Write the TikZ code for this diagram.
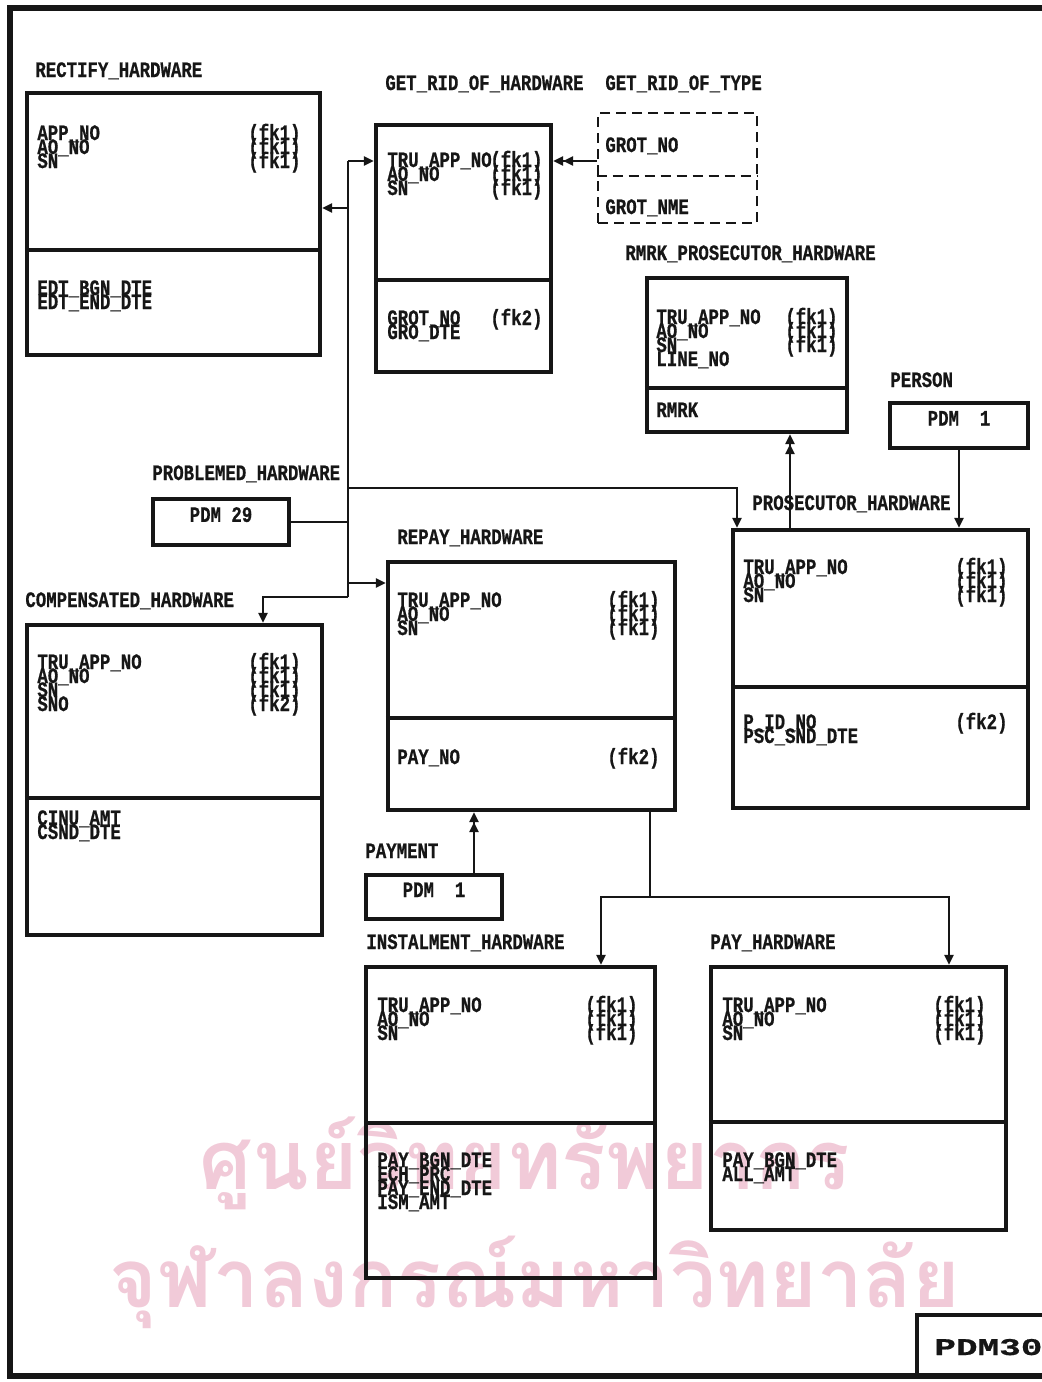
\documentclass[tikz,border=0pt]{standalone}
\usepackage{fontspec}
\newfontfamily\erfont[FakeStretch=0.79, FakeBold=0.7]{Liberation Mono Bold}
\newfontfamily\tagfont[FakeStretch=1.5, FakeBold=0.7]{Liberation Mono Bold}
\newfontfamily\thaifont[Script=Thai]{Loma}
\usepackage{xcolor}
\definecolor{inkblack}{RGB}{22, 22, 22}
\definecolor{stamppink}{RGB}{241, 202, 216}
\usepackage{tikz}
\usetikzlibrary{arrows.meta, positioning, fit}

% one column of attribute lines, 14px apart
\newcommand{\fieldlist}[4]{%
  \foreach \fitem [count=\fidx] in {#4}
    \node[field] (#1\fidx) at (#2, {#3+(\fidx-1)*14}) {\fitem};%
}

\begin{document}
\begin{tikzpicture}[x=0.5pt, y=-0.5pt,
    entity/.style={draw=inkblack, line width=2.2pt, inner sep=0pt},
    divider/.style={draw=inkblack, line width=2.2pt},
    field/.style={font=\erfont\fontsize{11}{7}\selectfont, text=inkblack, anchor=base west, inner sep=0pt},
    title/.style={field},
    pdmbox/.style={entity, font=\erfont\fontsize{11}{7}\selectfont, text=inkblack},
    conn/.style={draw=inkblack, line width=1.2pt},
    arr/.style={conn, -{Triangle[length=5pt, width=4.5pt]}},
    arrtwo/.style={conn, -{Triangle[length=5pt, width=4.5pt]Triangle[length=5pt, width=4.5pt]}}]
    \useasboundingbox (0,0) rectangle (1041,1382);

    % library stamp behind the drawing
    \node[text=stamppink, inner sep=0pt] (stampa) at (525,1163) {\resizebox{325pt}{!}{\thaifont\bfseries ศูนย์วิทยทรัพยากร}};
    \node[text=stamppink, inner sep=0pt] (stampb) at (535,1282) {\resizebox{425pt}{!}{\thaifont\bfseries จุฬาลงกรณ์มหาวิทยาลัย}};

    % page frame
    \draw[inkblack, line width=3.2pt] (1046,8) -- (10,8) -- (10,1376) -- (1046,1376);
    \node[entity, fit={(917,1315) (1060,1376)}] (pdmtag) {};
    \node[anchor=base west, inner sep=0pt, text=inkblack, font=\tagfont\fontsize{12}{12}\selectfont] (pdmname) at (934,1355) {PDM30};

    % RECTIFY_HARDWARE
    \node[title] (rectifyname) at (35,77) {RECTIFY\_HARDWARE};
    \node[entity, fit={(27,93) (320,355)}] (rectify) {};
    \draw[divider] (rectify.west |- 0,250) -- (rectify.east |- 0,250);
    \fieldlist{rectkey}{37}{140}{APP\_NO, AO\_NO, SN}
    \fieldlist{rectfk}{248}{140}{(fk1), (fk1), (fk1)}
    \fieldlist{rectatt}{37}{295}{EDT\_BGN\_DTE, EDT\_END\_DTE}

    % GET_RID_OF_HARDWARE
    \node[title] (getridname) at (385,90) {GET\_RID\_OF\_HARDWARE};
    \node[entity, fit={(376,125) (551,372)}] (getrid) {};
    \draw[divider] (getrid.west |- 0,280) -- (getrid.east |- 0,280);
    \fieldlist{getridkey}{387}{167}{TRU\_APP\_NO, AO\_NO, SN}
    \fieldlist{getridfk}{490}{167}{(fk1), (fk1), (fk1)}
    \fieldlist{getridatt}{387}{325}{GROT\_NO, GRO\_DTE}
    \node[field] (getridfkb) at (490,325) {(fk2)};

    % GET_RID_OF_TYPE
    \node[title] (grotypename) at (605,90) {GET\_RID\_OF\_TYPE};
    \node[entity, line width=1.3pt, dash pattern=on 5pt off 3pt, fit={(598,113) (757,223)}] (grotype) {};
    \draw[inkblack, line width=1.3pt, dash pattern=on 5pt off 3pt] (grotype.west |- 0,176) -- (grotype.east |- 0,176);
    \node[field] (grotypekey) at (605,152) {GROT\_NO};
    \node[field] (grotypeatt) at (605,214) {GROT\_NME};

    % RMRK_PROSECUTOR_HARDWARE
    \node[title] (rmrkname) at (625,260) {RMRK\_PROSECUTOR\_HARDWARE};
    \node[entity, fit={(647,278) (847,432)}] (rmrk) {};
    \draw[divider] (rmrk.west |- 0,388) -- (rmrk.east |- 0,388);
    \fieldlist{rmrkkey}{656}{324}{TRU\_APP\_NO, AO\_NO, SN, LINE\_NO}
    \fieldlist{rmrkfk}{785}{324}{(fk1), (fk1), (fk1)}
    \node[field] (rmrkatt) at (656,417) {RMRK};

    % PERSON
    \node[title] (personname) at (890,387) {PERSON};
    \node[pdmbox, fit={(890,403) (1028,448)}] (person) {PDM\ \ 1};

    % PROBLEMED_HARDWARE
    \node[title] (problemedname) at (152,480) {PROBLEMED\_HARDWARE};
    \node[pdmbox, fit={(153,499) (289,545)}] (problemed) {PDM 29};

    % PROSECUTOR_HARDWARE
    \node[title] (prosecname) at (752,510) {PROSECUTOR\_HARDWARE};
    \node[entity, fit={(733,530) (1028,808)}] (prosec) {};
    \draw[divider] (prosec.west |- 0,687) -- (prosec.east |- 0,687);
    \fieldlist{proseckey}{743}{574}{TRU\_APP\_NO, AO\_NO, SN}
    \fieldlist{prosecfk}{955}{574}{(fk1), (fk1), (fk1)}
    \fieldlist{prosecatt}{743}{729}{P\_ID\_NO, PSC\_SND\_DTE}
    \node[field] (prosecfkb) at (955,729) {(fk2)};

    % REPAY_HARDWARE
    \node[title] (repayname) at (397,544) {REPAY\_HARDWARE};
    \node[entity, fit={(388,562) (675,810)}] (repay) {};
    \draw[divider] (repay.west |- 0,718) -- (repay.east |- 0,718);
    \fieldlist{repaykey}{397}{607}{TRU\_APP\_NO, AO\_NO, SN}
    \fieldlist{repayfk}{607}{607}{(fk1), (fk1), (fk1)}
    \node[field] (repayatt) at (397,764) {PAY\_NO};
    \node[field] (repayfkb) at (607,764) {(fk2)};

    % COMPENSATED_HARDWARE
    \node[title] (compensname) at (25,607) {COMPENSATED\_HARDWARE};
    \node[entity, fit={(27,625) (322,935)}] (compens) {};
    \draw[divider] (compens.west |- 0,798) -- (compens.east |- 0,798);
    \fieldlist{compenskey}{37}{669}{TRU\_APP\_NO, AO\_NO, SN, SNO}
    \fieldlist{compensfk}{248}{669}{(fk1), (fk1), (fk1), (fk2)}
    \fieldlist{compensatt}{37}{825}{CINU\_AMT, CSND\_DTE}

    % PAYMENT
    \node[title] (paymentname) at (365,858) {PAYMENT};
    \node[pdmbox, fit={(366,875) (502,919)}] (payment) {PDM\ \ 1};

    % INSTALMENT_HARDWARE
    \node[title] (instalname) at (366,949) {INSTALMENT\_HARDWARE};
    \node[entity, fit={(366,967) (655,1278)}] (instal) {};
    \draw[divider] (instal.west |- 0,1123) -- (instal.east |- 0,1123);
    \fieldlist{instalkey}{377}{1012}{TRU\_APP\_NO, AO\_NO, SN}
    \fieldlist{instalfk}{585}{1012}{(fk1), (fk1), (fk1)}
    \fieldlist{instalatt}{377}{1167}{PAY\_BGN\_DTE, ECH\_PRC, PAY\_END\_DTE, ISM\_AMT}

    % PAY_HARDWARE
    \node[title] (payhwname) at (710,949) {PAY\_HARDWARE};
    \node[entity, fit={(711,967) (1006,1230)}] (payhw) {};
    \draw[divider] (payhw.west |- 0,1122) -- (payhw.east |- 0,1122);
    \fieldlist{payhwkey}{722}{1012}{TRU\_APP\_NO, AO\_NO, SN}
    \fieldlist{payhwfk}{933}{1012}{(fk1), (fk1), (fk1)}
    \fieldlist{payhwatt}{722}{1167}{PAY\_BGN\_DTE, ALL\_AMT}

    % the shared key bus
    \coordinate (bustop) at (348,161);
    \coordinate (busrect) at (348,208);
    \coordinate (busprosec) at (348,488);
    \coordinate (busrepay) at (348,583);
    \coordinate (busbot) at (348,597);
    \draw[conn] (bustop) -- (busbot);
    \draw[arr] (bustop) -- (bustop -| getrid.west);
    \draw[arr] (busrect) -- (busrect -| rectify.east);
    \draw[arr] (busprosec) -| (737,0 |- prosec.north);
    \draw[conn] (problemed.east) -- (problemed.east -| bustop);
    \draw[arr] (busrepay) -- (busrepay -| repay.west);
    \draw[arr] (busbot) -| (263,0 |- compens.north);

    % the other links
    \draw[arrtwo] (grotype.west |- bustop) -- (getrid.east |- bustop);
    \draw[arrtwo] (790,0 |- prosec.north) -- (790,0 |- rmrk.south);
    \draw[arr] (person.south) -- (person.south |- prosec.north);
    \draw[arrtwo] (474,0 |- payment.north) -- (474,0 |- repay.south);
    \coordinate (split) at (650,897);
    \draw[conn] (650,0 |- repay.south) -- (split);
    \draw[arr] (split) -| (601,0 |- instal.north);
    \draw[arr] (split) -| (949,0 |- payhw.north);
\end{tikzpicture}
\end{document}
